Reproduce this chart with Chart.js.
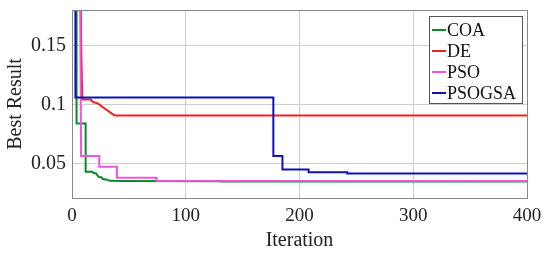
<!DOCTYPE html>
<html>
<head>
<meta charset="utf-8">
<script src="https://cdn.jsdelivr.net/npm/chart.js@4"></script>
<style>
  html, body { margin: 0; padding: 0; background: #fff; }
  #wrap { width: 550px; height: 257px; }
</style>
</head>
<body>
<div id="wrap"><canvas id="myChart"></canvas></div>
<script>
// series as [iteration, best result] corner points
const seriesNames = ['COA', 'DE', 'PSO', 'PSOGSA'];
const coa = [[4, 0.3], [4, 0.084], [12, 0.084], [12, 0.0432], [18, 0.0432], [19, 0.042], [21, 0.042],
  [22, 0.0405], [24, 0.0385], [26, 0.0385], [27, 0.037], [31, 0.0365], [33, 0.0355], [45, 0.0353],
  [130, 0.0352], [131, 0.035], [400, 0.035]];
const de = [[6.8, 0.3], [8, 0.155], [9, 0.1044], [16.5, 0.1044], [17, 0.1035], [18.6, 0.1022], [23, 0.1008],
  [27.5, 0.0975], [36, 0.0918], [38, 0.0907], [400, 0.0907]];
const pso = [[6.5, 0.3], [8, 0.0565], [24, 0.0565], [24, 0.0474], [39.5, 0.0474], [39.5, 0.0381],
  [74, 0.0381], [74.5, 0.0355], [400, 0.0354]];
const psogsa = [[3, 0.3], [3, 0.106], [177, 0.106], [177, 0.0565], [185, 0.0565], [185, 0.0452],
  [208, 0.0452], [208, 0.0427], [242, 0.0427], [242, 0.0418], [400, 0.0418]];
const xTicks = [0, 100, 200, 300, 400];
const yTicks = [0.05, 0.1, 0.15];

const colors = ['#0a8a2a', '#ee2222', '#ee55dd', '#1010bb'];
const serif = '"Liberation Serif", "Times New Roman", serif';

function toPts(arr) {
  return arr.map(p => ({ x: p[0], y: p[1] }));
}

// legend box drawn inside the plot, top right
const boxLegend = {
  id: 'boxLegend',
  afterDatasetsDraw(chart) {
    const c = chart.ctx;
    const a = chart.chartArea;
    const x0 = a.right - 98, y0 = a.top + 6, w = 93, h = 87;
    c.save();
    c.fillStyle = '#fff';
    c.fillRect(x0, y0, w, h);
    c.strokeStyle = '#555';
    c.lineWidth = 1;
    c.strokeRect(x0 + 0.5, y0 + 0.5, w, h);
    c.font = '18px ' + serif;
    c.textBaseline = 'middle';
    chart.data.datasets.forEach((ds, i) => {
      const yy = y0 + 14 + i * 21;
      c.strokeStyle = ds.borderColor;
      c.lineWidth = 2;
      c.beginPath();
      c.moveTo(x0 + 3, yy);
      c.lineTo(x0 + 17, yy);
      c.stroke();
      c.fillStyle = '#111';
      c.fillText(ds.label, x0 + 18, yy + 1);
    });
    c.restore();
  }
};

// outer frame of the plot area
const frame = {
  id: 'frame',
  afterDraw(chart) {
    const c = chart.ctx, a = chart.chartArea;
    c.save();
    c.strokeStyle = '#888';
    c.lineWidth = 1;
    c.strokeRect(Math.round(a.left) + 0.5, Math.round(a.top) + 0.5, Math.round(a.right - a.left), Math.round(a.bottom - a.top));
    c.restore();
  }
};

const ctx = document.getElementById('myChart');
const myChart = new Chart(ctx, {
  type: 'line',
  data: {
    datasets: [coa, de, pso, psogsa].map((s, i) => ({
      label: seriesNames[i],
      data: toPts(s),
      borderColor: colors[i],
      backgroundColor: colors[i],
      borderWidth: 2,
      pointRadius: 0,
      tension: 0,
      fill: false,
      order: 3 - i  // later series drawn on top, as in the figure
    }))
  },
  options: {
    responsive: true,
    maintainAspectRatio: false,
    animation: false,
    layout: { padding: { top: 10, right: 23, left: 0, bottom: 0 } },
    plugins: { legend: { display: false }, tooltip: { enabled: false } },
    scales: {
      x: {
        type: 'linear',
        min: 0, max: 400,
        afterBuildTicks: ax => { ax.ticks = xTicks.map(v => ({ value: v })); },
        afterFit: ax => { ax.height = 59; ax.paddingLeft = 0; ax.paddingRight = 0; },
        grid: { color: '#cfcfcf', drawTicks: false },
        border: { display: false },
        ticks: { color: '#222', font: { family: serif, size: 19 }, padding: 7, maxRotation: 0 },
        title: { display: true, text: 'Iteration', color: '#222', font: { family: serif, size: 20 }, padding: { top: 0 } }
      },
      y: {
        min: 0.021, max: 0.18,
        afterBuildTicks: ax => { ax.ticks = yTicks.map(v => ({ value: v })); },
        afterFit: ax => { ax.width = 72; ax.paddingTop = 0; ax.paddingBottom = 0; },
        grid: { color: '#cfcfcf', drawTicks: false },
        border: { display: false },
        ticks: { color: '#222', font: { family: serif, size: 20 }, padding: 6, callback: v => String(v) },
        title: { display: true, text: 'Best Result', color: '#222', font: { family: serif, size: 20 }, padding: { top: 4, bottom: 0 } }
      }
    }
  },
  plugins: [boxLegend, frame]
});
</script>
</body>
</html>
